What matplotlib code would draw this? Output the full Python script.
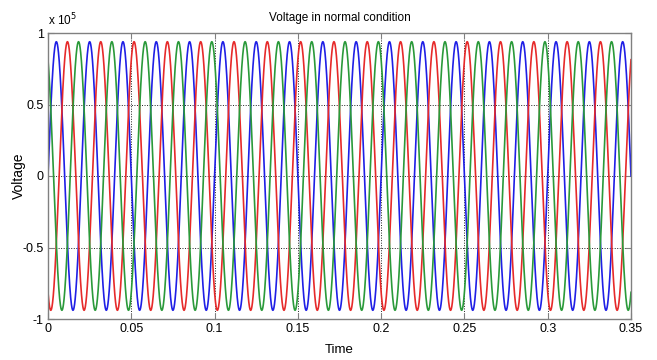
import numpy as np
import matplotlib
matplotlib.use("Agg")
import matplotlib.pyplot as plt
from matplotlib.ticker import FuncFormatter

# Values (three-phase sinusoids)
amplitude = 0.939e5          # peak voltage
frequency = 50.0             # Hz (period 0.02 s)
phase_deg = [0, -120, 120]   # blue, red, green
phase_colors = ["#1f1fe6", "#e62a2a", "#2a9a3a"]
t_start, t_end = 0.0, 0.35
x_ticks = [0, 0.05, 0.1, 0.15, 0.2, 0.25, 0.3, 0.35]
x_tick_labels = ["0", "0.05", "0.1", "0.15", "0.2", "0.25", "0.3", "0.35"]
y_ticks = [-1e5, -0.5e5, 0, 0.5e5, 1e5]
title = "Voltage in normal condition"
xlabel = "Time"
ylabel = "Voltage"

plt.rcParams["font.family"] = ["Liberation Sans", "DejaVu Sans"]
plt.rcParams["axes.unicode_minus"] = False

fig = plt.figure(figsize=(6.57, 3.6), dpi=100)
ax = fig.add_axes([48 / 657, 1 - 319 / 360, (631 - 48) / 657, (319 - 33) / 360])

t = np.linspace(t_start, t_end, 7001)
for ph, col in zip(phase_deg, phase_colors):
    ax.plot(t, amplitude * np.sin(2 * np.pi * frequency * t + np.deg2rad(ph)),
            color=col, lw=1.2)

ax.set_xlim(t_start, t_end)
ax.set_ylim(-1e5, 1e5)
ax.set_xticks(x_ticks)
ax.set_xticklabels(x_tick_labels)
ax.set_yticks(y_ticks)
ax.yaxis.set_major_formatter(FuncFormatter(lambda v, p: "%g" % (v / 1e5)))

ax.grid(True, color="#202020", linestyle=(0, (1, 1.6)), linewidth=0.7)
ax.tick_params(direction="in", top=True, right=True, labelsize=9,
               color="#808080", length=4, pad=3)
for s in ax.spines.values():
    s.set_color("#808080")
    s.set_linewidth(1.0)

ax.set_title(title, fontsize=8.5, pad=9)
ax.set_xlabel(xlabel, fontsize=9.5)
ax.set_ylabel(ylabel, fontsize=10)
ax.xaxis.set_label_coords(0.5, -0.088)
ax.yaxis.set_label_coords(-0.038, 0.5)
ax.text(0.0, 1.018, r"x 10$^5$", transform=ax.transAxes, fontsize=8.5,
        ha="left", va="bottom")

fig.savefig("out.png", dpi=100)
